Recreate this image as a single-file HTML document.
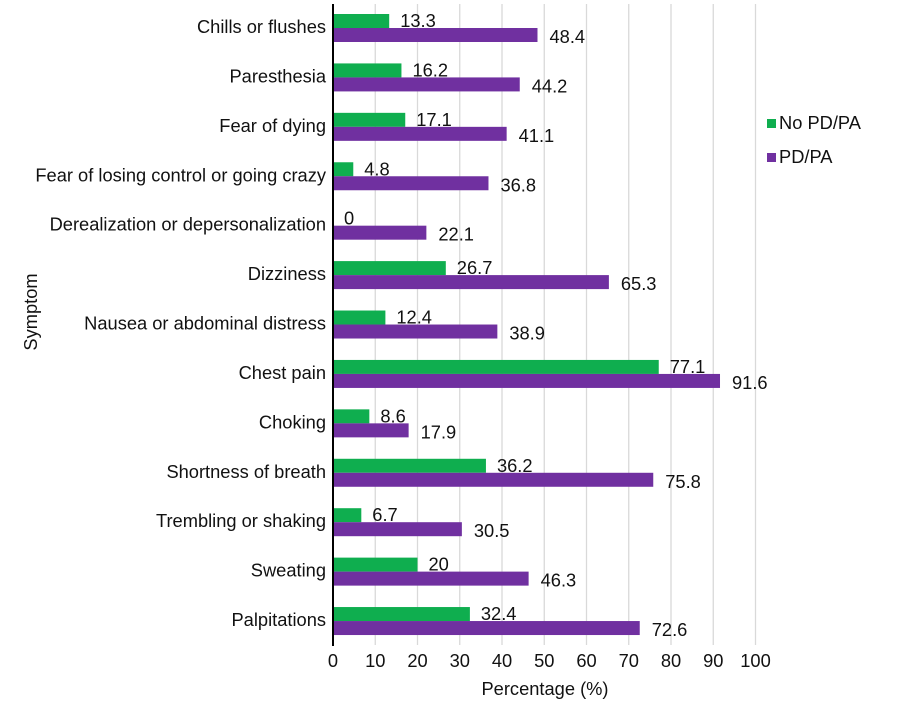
<!DOCTYPE html>
<html><head><meta charset="utf-8"><style>body{margin:0;background:#fff}svg{display:block;font-family:"Liberation Sans",Arial,sans-serif}</style></head>
<body>
<svg id="chart" width="900" height="706" viewBox="0 0 900 706"></svg>
<script>
const categories=["Chills or flushes","Paresthesia","Fear of dying","Fear of losing control or going crazy","Derealization or depersonalization","Dizziness","Nausea or abdominal distress","Chest pain","Choking","Shortness of breath","Trembling or shaking","Sweating","Palpitations"];
const noPdValues=[13.3,16.2,17.1,4.8,0,26.7,12.4,77.1,8.6,36.2,6.7,20,32.4];
const pdValues=[48.4,44.2,41.1,36.8,22.1,65.3,38.9,91.6,17.9,75.8,30.5,46.3,72.6];
const xTicks=[0,10,20,30,40,50,60,70,80,90,100];
const seriesNames=["No PD/PA","PD/PA"];
const NS="http://www.w3.org/2000/svg";
const svg=document.getElementById('chart');
const x0=333,pxPer=4.225,rowTop=14,rowStep=49.42,barH=14;
const FS=18.3;
const xs=v=>x0+v*pxPer;
const ys=i=>rowTop+i*rowStep;
function mk(tag,attrs,text){const e=document.createElementNS(NS,tag);for(const k in attrs)e.setAttribute(k,attrs[k]);if(text!==undefined)e.textContent=text;svg.appendChild(e);return e;}
xTicks.forEach(t=>{if(t===0)return;
const g=mk('line',{x1:xs(t),x2:xs(t),y1:4,y2:645,stroke:'#d9d9d9','stroke-width':1.3});

});
xTicks.forEach(t=>{const l=mk('text',{x:xs(t),y:667,'text-anchor':'middle','font-size':FS,fill:'#111'},String(t));

});
categories.forEach((c,i)=>{
const y=ys(i);
const cl=mk('text',{x:326,y:y+19,'text-anchor':'end','font-size':FS,fill:'#111'},c);


const b1=mk('rect',{x:x0,y:y,width:noPdValues[i]*pxPer,height:barH,fill:'#0fae4f'});


const b2=mk('rect',{x:x0,y:y+barH,width:pdValues[i]*pxPer,height:barH,fill:'#7030a0'});


const v1=mk('text',{x:xs(noPdValues[i])+11,y:y+13,'font-size':FS,fill:'#111'},String(noPdValues[i]));


const v2=mk('text',{x:xs(pdValues[i])+12,y:y+barH+15,'font-size':FS,fill:'#111'},String(pdValues[i]));


});
const ax=mk('line',{x1:x0,x2:x0,y1:4,y2:646,stroke:'#000','stroke-width':2});


const xt=mk('text',{x:545,y:695,'text-anchor':'middle','font-size':FS,fill:'#111'},'Percentage (%)');


const yt=mk('text',{x:0,y:0,'text-anchor':'middle','font-size':FS,fill:'#111',transform:'translate(37,312) rotate(-90)'},'Symptom');


const colors=['#0fae4f','#7030a0'];
seriesNames.forEach((n,i)=>{const yy=119+i*34;
const s=mk('rect',{x:767,y:yy,width:9,height:9,fill:colors[i]});


const t=mk('text',{x:779,y:yy+10,'font-size':FS,fill:'#111'},n);

});
</script>
</body></html>
